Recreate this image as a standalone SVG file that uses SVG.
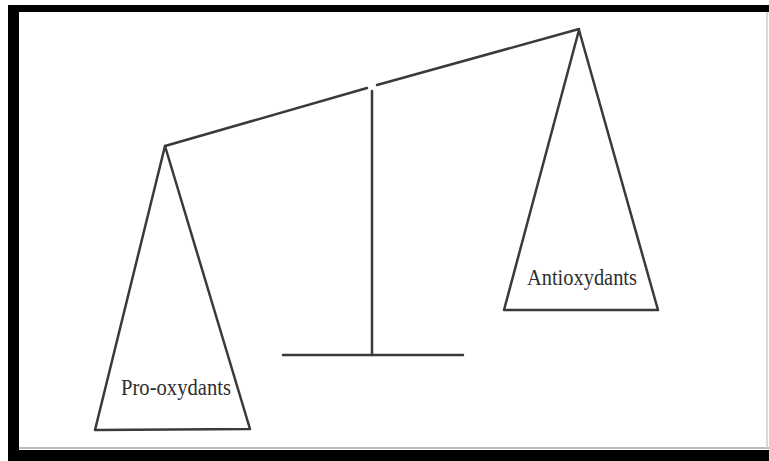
<svg xmlns="http://www.w3.org/2000/svg" width="769" height="461" viewBox="0 0 769 461">
<style>
.ln{stroke:#3a3a3a;stroke-width:2.5;fill:none;stroke-linecap:round;stroke-linejoin:round}
.lbl{font-family:"Liberation Serif","Times New Roman",serif;font-size:23px;fill:#2e2e2e;text-anchor:middle}
</style>
<rect x="0" y="0" width="769" height="461" fill="#ffffff"/>
<g id="frame">
<rect x="8" y="5" width="761" height="7" fill="#000"/>
<rect x="8" y="5" width="11" height="456" fill="#000"/>
<rect x="8" y="450" width="761" height="11" fill="#000"/>
<line x1="19" y1="448" x2="769" y2="448" stroke="#bbb" stroke-width="2"/>
<line x1="767" y1="12" x2="767" y2="448" stroke="#ccc" stroke-width="1.5"/>
</g>
<g id="connectors">
<line class="ln" x1="165" y1="146" x2="367" y2="88"/>
<line class="ln" x1="377" y1="85" x2="579" y2="29"/>
<line class="ln" x1="372" y1="91" x2="372" y2="355"/>
<line class="ln" x1="283" y1="355" x2="463" y2="355"/>
</g>
<g id="pro-oxydants">
<polygon class="ln" points="165,146 250,429 95,430"/>
<text class="lbl" x="176" y="395" textLength="110" lengthAdjust="spacingAndGlyphs">Pro-oxydants</text>
</g>
<g id="antioxydants">
<polygon class="ln" points="579,30 658,310 504,310"/>
<text class="lbl" x="582" y="285" textLength="110" lengthAdjust="spacingAndGlyphs">Antioxydants</text>
</g>
</svg>
